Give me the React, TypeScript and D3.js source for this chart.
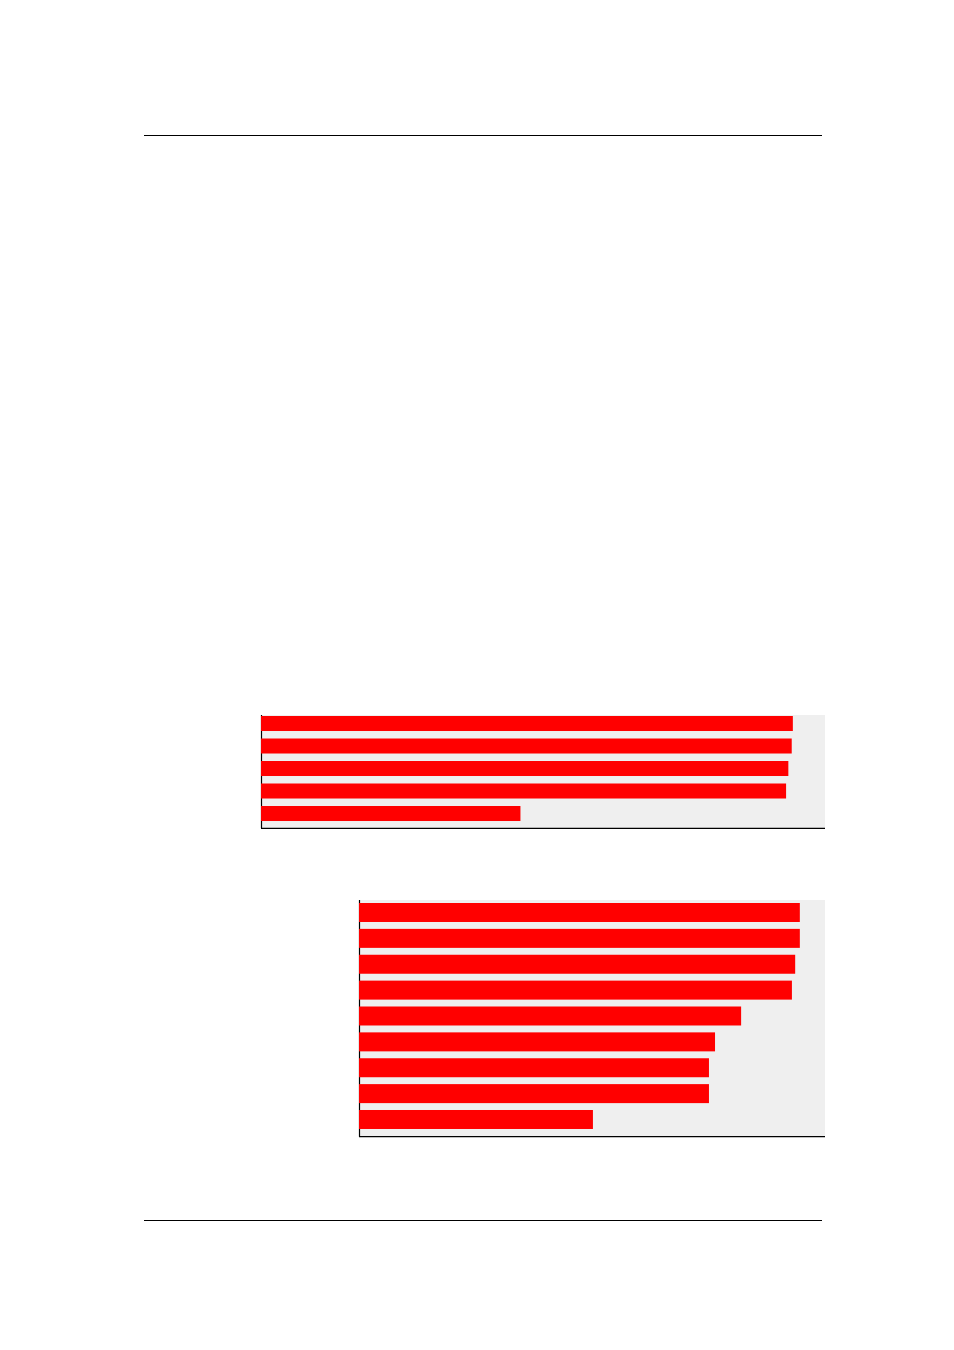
import React, { useRef, useEffect } from 'react';
import * as d3 from 'd3';

// Верхний график: 5 полос (значения в % от ширины области)
const categoriesA = ['a1', 'a2', 'a3', 'a4', 'a5'];
const valuesA = [94.3, 94.1, 93.5, 93.1, 46.0];

// Нижний график: 9 полос
const categoriesB = ['b1', 'b2', 'b3', 'b4', 'b5', 'b6', 'b7', 'b8', 'b9'];
const valuesB = [94.6, 94.6, 93.6, 92.9, 82.0, 76.4, 75.1, 75.1, 50.2];

const xDomain = [0, 100];

const App = () => {
  const svgRef = useRef<SVGSVGElement>(null);

  useEffect(() => {
    if (!svgRef.current) return;
    const svg = d3.select(svgRef.current);
    svg.selectAll('*').remove();

    // Линии колонтитулов страницы
    [135.5, 1220.5].forEach(y => {
      svg.append('line')
        .attr('x1', 144).attr('x2', 822)
        .attr('y1', y).attr('y2', y)
        .attr('stroke', '#000').attr('stroke-width', 1);
    });

    const drawChart = (
      cats: string[],
      vals: number[],
      box: { left: number; right: number; top: number; bottom: number },
      barTop: number,
      padInner: number,
      padOuter: number
    ) => {
      const g = svg.append('g');

      // фон области построения
      g.append('rect')
        .attr('x', box.left).attr('y', box.top)
        .attr('width', box.right - box.left)
        .attr('height', box.bottom - box.top)
        .attr('fill', '#efefef');

      const x = d3.scaleLinear().domain(xDomain).range([box.left, box.right]);
      const y = d3.scaleBand()
        .domain(cats)
        .range([barTop, box.bottom])
        .paddingInner(padInner)
        .paddingOuter(padOuter)
        .align(0);

      // оси без подписей
      g.append('line')
        .attr('x1', box.left + 0.5).attr('x2', box.left + 0.5)
        .attr('y1', box.top).attr('y2', box.bottom)
        .attr('stroke', '#000').attr('stroke-width', 1.2);
      g.append('line')
        .attr('x1', box.left).attr('x2', box.right)
        .attr('y1', box.bottom).attr('y2', box.bottom)
        .attr('stroke', '#000').attr('stroke-width', 1.2);

      g.selectAll('.bar')
        .data(vals)
        .enter()
        .append('rect')
        .attr('class', 'bar')
        .attr('x', x(0))
        .attr('y', (d, i) => y(cats[i])!)
        .attr('width', d => x(d) - x(0))
        .attr('height', y.bandwidth())
        .attr('fill', '#ff0000');
    };

    drawChart(categoriesA, valuesA, { left: 261, right: 825, top: 715, bottom: 828.3 }, 716, 0.333, 0.162);
    drawChart(categoriesB, valuesB, { left: 359, right: 825, top: 900, bottom: 1136.7 }, 903, 0.266, 0.149);
  }, []);

  return (
    <div style={{ position: 'absolute', left: 0, top: 0 }}>
      <svg ref={svgRef} width={954} height={1350} style={{ display: 'block', background: 'white' }}></svg>
    </div>
  );
};

export default App;
